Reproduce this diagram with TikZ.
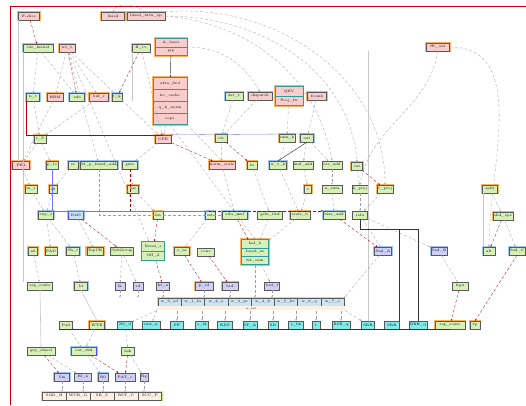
\documentclass[tikz,border=0pt]{standalone}
\usetikzlibrary{arrows.meta,shapes.multipart}
\definecolor{gfill}{RGB}{214,240,184}
\definecolor{pfill}{RGB}{250,205,205}
\definecolor{lfill}{RGB}{208,208,246}
\definecolor{cfill}{RGB}{130,236,236}
\definecolor{bfill}{RGB}{205,228,245}
\definecolor{oglow}{RGB}{250,180,100}
\definecolor{bglow}{RGB}{160,198,248}
\tikzset{nd/.style={draw=black!65, line width=0.3pt, inner sep=0.8pt, minimum height=8pt, font=\fontsize{3.5}{4}\selectfont}}
\tikzset{pk/.style={nd, fill=pfill}, gr/.style={nd, fill=gfill}, lv/.style={nd, fill=lfill}, cy/.style={nd, fill=cfill}}
\tikzset{og/.style={preaction={draw=oglow, line width=2.6pt}}, bg/.style={preaction={draw=bglow, line width=2.6pt}}}
\tikzset{bx/.style={nd, rectangle split, rectangle split parts=#1, draw=teal!80, line width=0.5pt, align=center}}
\tikzset{ed/.style={densely dashed, black!38, line width=0.3pt, -{Stealth[length=2pt,width=1.6pt]}}}
\tikzset{re/.style={ed, red!70!black}, be/.style={ed, blue!55, solid}, ln/.style={black!22, line width=0.6pt}, bk/.style={black!80, line width=0.45pt}}

\begin{document}
\begin{tikzpicture}[x=1pt,y=-1pt]
\useasboundingbox (0,0) rectangle (526,405);
\draw[red!80!black, line width=1pt] (10,405) -- (10,6) -- (526,6);

% top
\node[pk,og,minimum width=21pt] (a1) at (29,16) {F-slice};
\node[pk,og,minimum width=23pt] (a2) at (113,16) {fused};
\node[pk,og,minimum width=38pt] (a3) at (146,16) {fused\_attn\_op};
\node[gr,bg,minimum width=30pt] (b1) at (38,48) {cut\_kernel};
\node[pk,og,minimum width=16pt] (b2) at (67,48) {ws\_t};
\node[gr,bg,minimum width=18pt] (b3) at (141,48) {B\_rv};
\node[bx=2,fill=pfill,og,minimum width=32pt,inner ysep=2.5pt] (B1) at (171,47) {A\_layer\nodepart{two}grp};
\node[bx=4,fill=pfill,og,minimum width=34pt,inner ysep=4.2pt] (B2) at (170,101)
  {attn\_fwd\nodepart{two}kv\_cache\nodepart{three}q\_k\_norm\nodepart{four}rope};
\node[pk,og,minimum width=23pt] (c10) at (438,47) {fft\_out};

% row 2
\node[gr,bg,minimum width=13pt] (c1) at (33,97) {n\_t};
\node[pk,og,minimum width=16pt] (c2) at (55,97) {HBM};
\node[gr,bg,minimum width=15pt] (c3) at (77,97) {sdt};
\node[pk,og,minimum width=19pt] (c4) at (99,97) {buf\_r};
\node[gr,bg,minimum width=10pt] (c5) at (117,97) {t\_k};
\node[gr,bg,minimum width=18pt] (c6) at (234,96) {dst\_t};
\node[pk,og,minimum width=24pt] (c7) at (260,96) {dispatch};
\node[bx=2,fill=pfill,og,minimum width=28pt,inner ysep=3pt] (c8) at (289,96) {QKV\nodepart{two}Proj\_fw};
\node[pk,og,minimum width=19pt] (c9) at (317,96) {fcomb};

% row 3
\node[gr,og,minimum width=12pt] (d1) at (40,139) {r\_S};
\node[pk,og,minimum width=16pt] (d2) at (163,139) {CFE};
\node[gr,og,minimum width=12pt] (d3) at (221,138) {cfs};
\node[gr,og,minimum width=14pt] (d4) at (287,138) {sum\_k};
\node[gr,bg,minimum width=13pt] (d5) at (307,138) {out};

% row 4
\node[pk,og,minimum width=17pt] (e1) at (21,165) {FB4};
\node[gr,og,minimum width=12pt] (e2) at (52,165) {p\_lo};
\node[gr,bg,minimum width=10pt] (e3) at (73,165) {sc};
\node[gr,bg,minimum width=32pt] (e4) at (99,165) {M\_p\_fused\_add};
\node[gr,bg,minimum width=15pt] (e5) at (130,165) {gate};
\node[pk,og,minimum width=25pt] (e6) at (222,165) {norm\_scale};
\node[gr,og,minimum width=10pt] (e7) at (252,165) {ln};
\node[gr,bg,minimum width=17pt] (e8) at (278,165) {w\_t\_h};
\node[gr,minimum width=20pt] (e9) at (303,165) {mul\_add};
\node[gr,minimum width=20pt] (e10) at (332,165) {res\_add};
\node[gr,og,minimum width=11pt] (e11) at (357,166) {cat};

% row 5
\node[gr,og,minimum width=12pt] (f1) at (31,189) {m\_r};
\node[gr,og,minimum width=8pt] (f2) at (53,189) {s0};
\node[gr,og,minimum width=11pt] (f3) at (133,189) {ass};
\node[gr,og,minimum width=7pt] (f4) at (308,189) {t};
\node[gr,minimum width=20pt] (f5) at (332,189) {x\_sum};
\node[gr,minimum width=16pt] (f6) at (360,189) {k\_proj};
\node[gr,og,minimum width=16pt] (f7) at (385,189) {v\_proj};
\node[gr,og,minimum width=15pt] (f8) at (490,189) {split};

% row 6
\node[gr,bg,minimum width=15pt] (g1) at (46,215) {exp\_s};
\node[nd,fill=bfill,draw=blue!70,preaction={draw=bglow,line width=2.8pt},minimum width=15pt] (g2) at (76,215) {RMS};
\node[gr,og,minimum width=10pt] (g3) at (158,215) {bn};
\node[gr,bg,minimum width=10pt] (g4) at (210,215) {cst};
\node[gr,bg,minimum width=25pt] (g5) at (235,215) {silu\_mul};
\node[gr,minimum width=25pt] (g6) at (270,215) {gelu\_fwd};
\node[gr,og,minimum width=20pt] (g7) at (300,215) {scale\_b};
\node[gr,bg,minimum width=22pt] (g8) at (334,215) {bias\_add};
\node[gr,minimum width=15pt] (g9) at (360,215) {relu};
\node[gr,og,minimum width=20pt] (g10) at (503,216) {shd\_ops};

% row 7
\node[gr,og,minimum width=9pt] (h1) at (33,251) {a0};
\node[gr,og,minimum width=12pt] (h2) at (51,251) {PAD};
\node[gr,bg,minimum width=13pt] (h3) at (73,251) {Sh\_t};
\node[gr,og,minimum width=16pt] (h4) at (95,251) {TopCK};
\node[gr,minimum width=23pt] (h5) at (122,251) {SubGroup};
\node[bx=2,fill=gfill,minimum width=23pt,inner ysep=3pt] (h6) at (153,251) {Norm\_s\nodepart{two}Off\_d};
\node[gr,og,minimum width=15pt] (h7) at (182,251) {s\_nc};
\node[gr,minimum width=17pt] (h8) at (206,252) {conv};
\node[bx=3,fill=gfill,og,minimum width=27pt,inner ysep=2.4pt] (h9) at (255,252) {hid\_b\nodepart{two}fused\_m\nodepart{three}hd\_sum};
\node[lv,bg,minimum width=17pt] (h10) at (383,251) {Snd\_A};
\node[lv,bg,minimum width=15pt] (h11) at (439,251) {Snd\_B};
\node[gr,bg,minimum width=12pt] (h12) at (489,251) {alt};
\node[gr,bg,minimum width=15pt] (h13) at (517,251) {Snd\_C};

% row 8
\node[gr,minimum width=25pt] (i1) at (40,286) {seg\_route};
\node[gr,bg,minimum width=13pt] (i2) at (81,286) {ld};
\node[lv,minimum width=10pt] (i3) at (120,286) {lk};
\node[lv,minimum width=10pt] (i4) at (138,286) {vd};
\node[lv,minimum width=13pt] (i5) at (163,286) {ht\_n};
\node[lv,og,minimum width=18pt] (i6) at (204,286) {p\_rd};
\node[lv,bg,minimum width=16pt] (i7) at (230,286) {brd};
\node[lv,minimum width=15pt] (i8) at (272,286) {brd\_f};
\node[gr,minimum width=16pt] (i9) at (460,286) {frgn};

% bar
\node[nd,rectangle split,rectangle split horizontal,rectangle split parts=8,fill=bfill,
      preaction={draw=green!60!yellow!60,line width=2pt},inner xsep=1.5pt,inner ysep=2.6pt] (j) at (251,302)
  {\makebox[20pt]{w\_0\_sd}\nodepart{two}\makebox[20pt]{w\_1\_ln}\nodepart{three}\makebox[20pt]{w\_2\_a}\nodepart{four}\makebox[20pt]{w\_3\_pr}%
   \nodepart{five}\makebox[20pt]{w\_4\_b}\nodepart{six}\makebox[20pt]{w\_5\_kv}\nodepart{seven}\makebox[20pt]{w\_6\_q}\nodepart{eight}\makebox[20pt]{w\_7\_o}};
\node[nd,draw=none,fill=orange!12,minimum width=188pt,minimum height=4pt,inner sep=0.3pt,anchor=north,font=\fontsize{2.5}{3}\selectfont] (jb) at (j.south) {w\_buf};

% row 9
\node[gr,minimum width=13pt] (k1) at (66,325) {Pad};
\node[gr,og,minimum width=15pt] (k2) at (97,325) {WTE};
\node[cy,minimum width=15pt] (k3) at (125,325) {NS\_0};
\node[cy,minimum width=18pt] (k4) at (151,325) {rms\_n};
\node[cy,minimum width=13pt] (k5) at (177,325) {FF};
\node[cy,minimum width=13pt] (k6) at (202,325) {s\_ld};
\node[cy,minimum width=15pt] (k7) at (225,325) {RDS};
\node[cy,minimum width=14pt] (k8) at (250,325) {ST\_A};
\node[cy,minimum width=10pt] (k9) at (273,325) {SD};
\node[cy,minimum width=15pt] (k10) at (296,325) {s\_bk};
\node[cy,minimum width=8pt] (k11) at (316,325) {f};
\node[cy,minimum width=18pt] (k12) at (341,325) {BSB\_q};
\node[cy,minimum width=13pt] (k13) at (368,325) {SBR};
\node[cy,minimum width=15pt] (k14) at (392,325) {SRB};
\node[cy,minimum width=17pt] (k15) at (418,325) {BBR\_q};
\node[gr,og,minimum width=30pt] (k16) at (450,325) {seg\_route};
\node[gr,og,minimum width=10pt] (k17) at (475,325) {tp};

% rows 10, 11
\node[gr,minimum width=28pt] (l1) at (41,351) {grp\_shard};
\node[gr,draw=blue!70,preaction={draw=bglow,line width=2.8pt},minimum width=25pt] (l2) at (84,351) {cat\_shd};
\node[gr,minimum width=13pt] (l3) at (128,351) {hsh};
\node[lv,bg,minimum width=15pt] (m1) at (62,377) {Vm};
\node[lv,minimum width=17pt] (m2) at (83,377) {Bl\_n};
\node[lv,bg,minimum width=10pt] (m3) at (103,377) {B0};
\node[lv,minimum width=20pt] (m4) at (125,377) {PAT\_r};
\node[lv,minimum width=8pt] (m5) at (144,377) {Rg};
\node[nd,rectangle split,rectangle split horizontal,rectangle split parts=5,fill=orange!12,
      preaction={draw=green!60!yellow!50,line width=2pt},inner xsep=1.8pt,inner ysep=2.2pt] (n) at (102,396)
  {\makebox[20pt]{SGD\_H}\nodepart{two}\makebox[20pt]{WCR\_G}\nodepart{three}\makebox[20pt]{SR\_S}\nodepart{four}\makebox[20pt]{RST\_C}\nodepart{five}\makebox[20pt]{SCC\_P}};

% connectors
\draw[re] (a1) -- (b1);
\draw[ed] (a3.north) to[out=150,in=60] (a2.north);
\draw[ed] (a3.north east) to[out=5,in=90] (f7.north);
\draw[ed] (a3.east) to[out=0,in=95] (e11.north);
\draw[ed] (a3.east) to[out=-5,in=100] (e10.north);
\draw[ed] (c10.east) to[out=0,in=90] (h12.north);
\draw[ed] (c10.south) to[out=-100,in=80] (f6.north);
\draw[ln] (a1.south west) -- (a1.south west |- e1.north);
\draw[ln] (b1.south west) -- (b1.south west |- i1.north);
\draw[ln] (k13.north) -- (k13.north |- c10.south);
\draw[ln] (h12.north west) -- (h12.north west |- f8.south);
\draw[ed] (b1) -- (c1);
\draw[ed] (b1) -- (c3);
\draw[ed] (b2) -- (c2);
\draw[re] (b2) -- (c3);
\draw[ed] (b2) -- (c4);
\draw[ed] (b2) -- (d2);
\draw[ed] (b2) -- (e4);
\draw[ed] (b2) -- (h6);
\draw[re] (b3) -- (c5);
\draw[ed] (b3) -- (d2);
\draw[ln] (b3.south west) -- (b3.south west |- c5.south);
\draw[bk,-{Stealth[length=2pt]}] (B1) -- (B2);
\draw[ed] (B1.east) to[out=0,in=120] (c7.north);
\draw[ed] (B2) -- (d2);
\draw[ed] (B2.south east) -- (e6.north);
\draw[ed] (B2.south) -- (h9.north);
\draw[ed] (c6) -- (d3);
\draw[ed] (c7) -- (d3);
\draw[ed] (c8) -- (d4);
\draw[ed] (c9) -- (d5);
\draw[ed] (c1) -- (d1);
\draw[ed] (c4) -- (d1);
\draw[ed] (c2) -- (e1);
\draw[red!70!black, line width=0.35pt, -{Stealth[length=2pt]}] (c1.south west) |- (d2.north);
\draw[be, -{Stealth[length=2pt]}] (d5.north) -- (d2.north east);
\draw[ed] (d1) -- (e2);
\draw[ed] (d1) -- (e1);
\draw[ed] (d2) -- (e5);
\draw[re] (d2) -- (e6);
\draw[ed] (d3) -- (e6);
\draw[re] (d3) -- (e7);
\draw[ed] (d4) -- (e8);
\draw[ed] (d5) -- (e9);
\draw[ed] (d5) -- (e10);
\draw[bk] (d5.south) -- (e8.north);
\draw[ed] (e1) -- (f1);
\draw[ed] (e2) -- (f2);
\draw[ed] (e3) -- (f2);
\draw[ed] (e5) -- (f3);
\draw[ed] (e6) -- (g5);
\draw[ed] (e7) -- (g6);
\draw[ed] (e8) -- (g7);
\draw[ed] (e9) -- (f4);
\draw[ed] (e10) -- (f5);
\draw[ed] (e11) -- (f6);
\draw[re] (e11) -- (f7);
\draw[ed] (e4.south) |- (g5.west);
\draw[re] (e5.south) |- (g8.north west);
\draw[be] (e2.south) |- (g4.north);
\draw[ed] (f1) -- (g1);
\draw[ed] (f2) -- (g1);
\draw[ed] (f3) -- (g3);
\draw[ed] (f4) -- (g7);
\draw[ed] (f5) -- (g8);
\draw[ed] (f6) -- (g9);
\draw[ed] (f7) -- (g9);
\draw[ed] (f8) -- (g10);
\draw[ed] (g1) -- (h2);
\draw[ed] (g1) -- (h3);
\draw[ed] (g2) -- (h4);
\draw[re] (g2) -- (h5);
\draw[re] (g3) -- (h6);
\draw[ed] (g4) -- (h7);
\draw[re] (g5) -- (h9);
\draw[ed] (g6) -- (h9);
\draw[ed] (g7) -- (h9);
\draw[re] (g8) -- (h10);
\draw[ed] (g9) -- (h10);
\draw[ed] (g9) -- (h11);
\draw[re] (g10) -- (h12);
\draw[ed] (g10) -- (h13);
\draw[bk] (g9.south) |- ([yshift=-10pt]g9.south -| k15.north) -- (k15.north);
\draw[bk] (g9.south) |- ([yshift=-10pt]g9.south -| k14.north east) -- (k14.north east);
\draw[ed] (h1) -- (i1);
\draw[ed] (h3) -- (i2);
\draw[ed] (h5) -- (i3);
\draw[ed] (h5) -- (i4);
\draw[re] (h6) -- (i5);
\draw[re] (h7) -- (i6);
\draw[re] (h8) -- (i7);
\draw[ed] (h9) -- (i8);
\draw[ed] (h11) -- (i9);
\draw[ed] (h9.south) -- (h9.south |- j.north);
\draw[ed] (h10) -- (j.north east);
\draw[ed] (i3) -- (i3 |- j.north);
\draw[ed] (i4) -- (i4 |- j.north);
\draw[ed] (i5) -- (i5 |- j.north);
\draw[ed] (i6) -- (i6 |- j.north);
\draw[ed] (i7) -- (i7 |- j.north);
\draw[ed] (i8) -- (i8 |- j.north);
\draw[ed] (jb.south -| k5) -- (k5);
\draw[ed] (jb.south -| k6) -- (k6);
\draw[ed] (jb.south -| k7) -- (k7);
\draw[ed] (jb.south -| k8) -- (k8);
\draw[ed] (jb.south -| k9) -- (k9);
\draw[ed] (jb.south -| k10) -- (k10);
\draw[ed] (jb.south -| k11) -- (k11);
\draw[ed] (jb.south -| k12) -- (k12);
\draw[ed] (jb.south west) -- (k4);
\draw[ed] (jb.south west) -- (k3);
\draw[ed] (jb.south east) -- (k13);
\draw[re] (i9) -- (k16);
\draw[re] (h13.south) -- (k17.north);
\draw[bk] (k1.south west) -- (k16.south |- k1.south);
\draw[ln] (i2.south) -- (k2.north);
\draw[ln] (i1.south) -- (l1.north);
\draw[ed] (k2) -- (l2);
\draw[ed] (k1) -- (l2);
\draw[ed] (k3) -- (l3);
\draw[re] (l1) -- (m1);
\draw[ed] (l1) -- (m2);
\draw[ed] (l2) -- (m3);
\draw[re] (l2) -- (m4);
\draw[re] (l3) -- (m4);
\draw[ed] (l3) -- (m5);
\draw[ed] (m1) -- (m1 |- n.north);
\draw[ed] (m2) -- (m2 |- n.north);
\draw[ed] (m3) -- (m3 |- n.north);
\draw[ed] (m4) -- (m4 |- n.north);
\draw[ed] (m5) -- (m5 |- n.north);
\end{tikzpicture}
\end{document}
